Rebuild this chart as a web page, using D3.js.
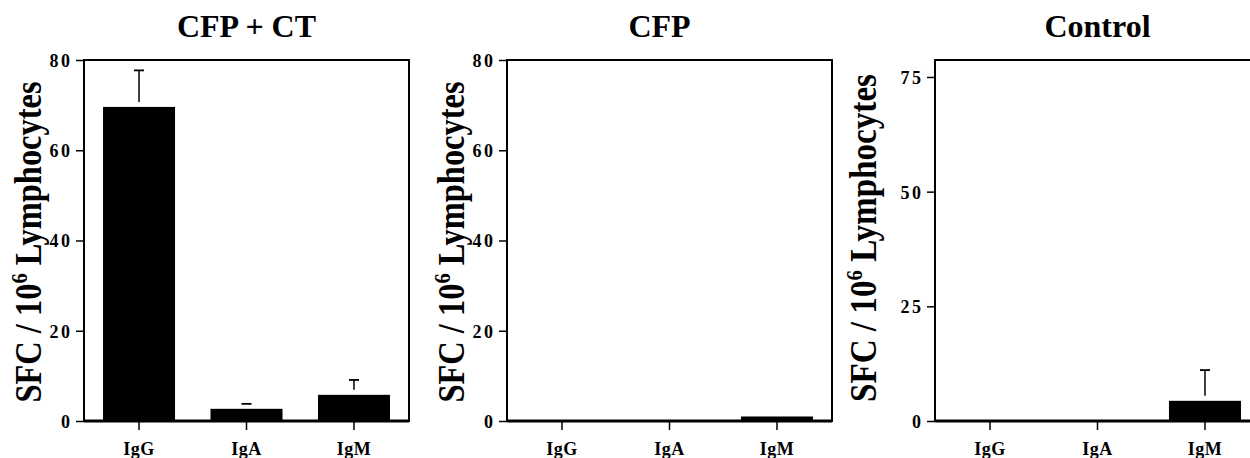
<!DOCTYPE html>
<html>
<head>
<meta charset="utf-8">
<script src="https://cdn.jsdelivr.net/npm/d3@7"></script>
<style>
  html, body { margin: 0; padding: 0; background: #fff; }
  svg { display: block; }
  text { font-family: "Liberation Serif", "Times New Roman", serif; font-weight: bold; fill: #000; }
</style>
</head>
<body>
<svg id="chart" width="1250" height="458"></svg>
<script>
// ---- data ----
const categories = ["IgG", "IgA", "IgM"];
const panelTitles = ["CFP + CT", "CFP", "Control"];
const meansCFPCT = [69.6, 2.7, 5.8];
const errorsCFPCT = [8.1, 1.1, 3.3];
const meansCFP = [0, 0, 1.0];
const errorsCFP = [0, 0, 0];
const meansControl = [0, 0, 4.4];
const errorsControl = [0, 0, 6.7];
const yMaxes = [80, 80, 78.7];
const yTicksCFPCT = [0, 20, 40, 60, 80];
const yTicksCFP = [0, 20, 40, 60, 80];
const yTicksControl = [0, 25, 50, 75];
const yLabelMain = "SFC / 10";
const yLabelSup = "6";
const yLabelRest = " Lymphocytes";

const panels = [
  { title: panelTitles[0], means: meansCFPCT, errors: errorsCFPCT, yMax: yMaxes[0], ticks: yTicksCFPCT },
  { title: panelTitles[1], means: meansCFP, errors: errorsCFP, yMax: yMaxes[1], ticks: yTicksCFP },
  { title: panelTitles[2], means: meansControl, errors: errorsControl, yMax: yMaxes[2], ticks: yTicksControl }
];

// ---- layout ----
const lefts = [84, 507, 935];
const labelX = [41, 464, 876];
const labelLen = [321, 321, 328];
const labelCY = [242, 242, 238];
const plotW = 325, plotTop = 60, plotBottom = 421;

const svg = d3.select("#chart");

panels.forEach((p, i) => {
  const g = svg.append("g").attr("transform", `translate(${lefts[i]},0)`);
  const x = d3.scaleBand().domain(categories).range([0, plotW]).paddingInner(0.33).paddingOuter(0.177);
  const y = d3.scaleLinear().domain([0, p.yMax]).range([plotBottom, plotTop]);

  // bars
  g.selectAll("rect.bar").data(categories).enter().append("rect")
    .attr("class", "bar")
    .attr("x", d => x(d))
    .attr("width", x.bandwidth())
    .attr("y", (d, j) => y(p.means[j]))
    .attr("height", (d, j) => plotBottom - y(p.means[j]))
    .attr("fill", "#000");

  // error bars (upper only)
  const gap = 5, capW = 10;
  categories.forEach((c, j) => {
    if (p.errors[j] <= 0) return;
    const cx = x(c) + x.bandwidth() / 2;
    const yTop = y(p.means[j] + p.errors[j]);
    const yBot = y(p.means[j]) - gap;
    if (yBot > yTop) {
      g.append("line").attr("x1", cx).attr("x2", cx).attr("y1", yTop).attr("y2", yBot)
        .attr("stroke", "#000").attr("stroke-width", 1.5);
    }
    g.append("line").attr("x1", cx - capW / 2).attr("x2", cx + capW / 2).attr("y1", yTop).attr("y2", yTop)
      .attr("stroke", "#000").attr("stroke-width", 1.8);
  });

  // frame
  g.append("rect").attr("x", 0).attr("y", plotTop).attr("width", plotW).attr("height", plotBottom - plotTop)
    .attr("fill", "none").attr("stroke", "#000").attr("stroke-width", 2);
  g.append("line").attr("x1", 0).attr("x2", plotW).attr("y1", plotBottom).attr("y2", plotBottom)
    .attr("stroke", "#000").attr("stroke-width", 3);

  // y axis
  const ya = g.append("g").call(d3.axisLeft(y).tickValues(p.ticks).tickSize(8).tickPadding(6).tickFormat(d3.format("d")));
  ya.select(".domain").remove();
  ya.selectAll(".tick line").attr("stroke", "#000").attr("stroke-width", 1.5);
  ya.selectAll(".tick text").style("font-size", "18px").style("letter-spacing", "2.5px").attr("dx", "2.5").attr("dy", "0.36em");

  // x axis
  const xa = g.append("g").attr("transform", `translate(0,${plotBottom})`)
    .call(d3.axisBottom(x).tickSize(9).tickPadding(12));
  xa.select(".domain").remove();
  xa.selectAll(".tick line").attr("stroke", "#000").attr("stroke-width", 1.5);
  xa.selectAll(".tick text").style("font-size", "18px").style("letter-spacing", "0.5px");

  // title
  svg.append("text").attr("x", lefts[i] + plotW / 2 - (i === 1 ? 10 : 0)).attr("y", 37)
    .attr("text-anchor", "middle").style("font-size", "32px").text(p.title);

  // y label
  const t = svg.append("text")
    .attr("transform", `translate(${labelX[i]},${labelCY[i]}) rotate(-90)`)
    .attr("text-anchor", "middle")
    .style("font-size", "38px")
    .attr("textLength", labelLen[i])
    .attr("lengthAdjust", "spacingAndGlyphs");
  t.append("tspan").text(yLabelMain);
  t.append("tspan").style("font-size", "24px").attr("dy", -14).text(yLabelSup);
  t.append("tspan").attr("dy", 14).text(yLabelRest);
});
</script>
</body>
</html>
